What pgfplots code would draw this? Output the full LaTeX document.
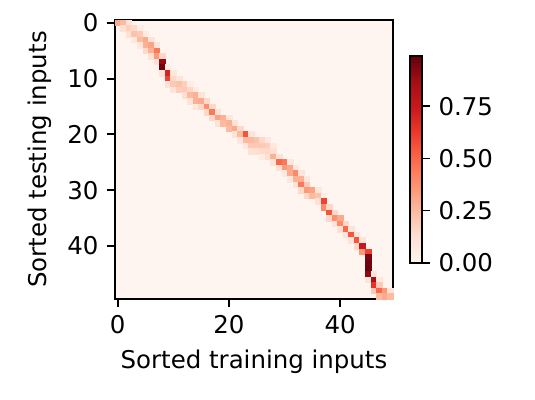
\documentclass[border=0pt]{standalone}
\usepackage{pgfplots}
\pgfplotsset{compat=1.18}
\usepackage{pgfplotstable}
\usepackage{fontspec}
\setmainfont{DejaVu Sans}
\definecolor{redszero}{RGB}{255,245,240}
\pgfplotstableread{
x y c
0 0 0.30
1 0 0.25
2 0 0.10
1 1 0.12
2 1 0.18
3 1 0.15
4 1 0.05
2 2 0.12
3 2 0.22
4 2 0.20
5 2 0.06
3 3 0.08
4 3 0.25
5 3 0.30
6 3 0.10
4 4 0.08
5 4 0.28
6 4 0.32
7 4 0.10
5 5 0.15
6 5 0.28
7 5 0.45
6 6 0.12
7 6 0.35
8 6 0.15
7 7 0.10
8 7 0.90
8 8 0.97
9 8 0.05
8 9 0.10
9 9 0.70
10 9 0.08
9 10 0.60
10 10 0.15
11 10 0.10
9 11 0.10
10 11 0.20
11 11 0.22
12 11 0.18
13 11 0.05
10 12 0.10
11 12 0.18
12 12 0.20
13 12 0.15
14 12 0.06
12 13 0.12
13 13 0.25
14 13 0.28
15 13 0.10
13 14 0.10
14 14 0.28
15 14 0.30
16 14 0.15
14 15 0.08
15 15 0.15
16 15 0.38
17 15 0.15
16 16 0.15
17 16 0.45
18 16 0.12
17 17 0.15
18 17 0.32
19 17 0.28
20 17 0.08
18 18 0.10
19 18 0.25
20 18 0.28
21 18 0.10
20 19 0.25
21 19 0.30
22 19 0.15
21 20 0.10
22 20 0.25
23 20 0.55
24 20 0.10
22 21 0.08
23 21 0.25
24 21 0.25
25 21 0.22
26 21 0.15
27 21 0.08
23 22 0.08
24 22 0.20
25 22 0.20
26 22 0.20
27 22 0.18
28 22 0.08
24 23 0.12
25 23 0.12
26 23 0.14
27 23 0.15
28 23 0.12
26 24 0.06
27 24 0.12
28 24 0.28
29 24 0.10
28 25 0.10
29 25 0.50
30 25 0.45
31 25 0.08
29 26 0.12
30 26 0.35
31 26 0.30
32 26 0.08
30 27 0.08
31 27 0.30
32 27 0.40
33 27 0.10
31 28 0.08
32 28 0.28
33 28 0.28
34 28 0.08
32 29 0.10
33 29 0.45
34 29 0.20
33 30 0.15
34 30 0.35
35 30 0.32
36 30 0.08
34 31 0.15
35 31 0.25
36 31 0.22
37 31 0.05
36 32 0.12
37 32 0.60
37 33 0.40
38 33 0.15
38 34 0.55
39 34 0.15
38 35 0.15
39 35 0.38
40 35 0.30
39 36 0.10
40 36 0.40
41 36 0.15
40 37 0.12
41 37 0.50
42 37 0.10
41 38 0.10
42 38 0.55
43 38 0.10
42 39 0.10
43 39 0.55
44 39 0.10
43 40 0.15
44 40 0.75
44 41 0.35
45 41 0.60
45 42 0.95
45 43 0.97
45 44 0.98
45 45 0.92
46 45 0.10
45 46 0.10
46 46 0.85
47 46 0.08
46 47 0.65
47 47 0.20
46 48 0.20
47 48 0.50
48 48 0.35
49 48 0.10
47 49 0.25
48 49 0.30
49 49 0.25
}\attn
\begin{document}
\begin{tikzpicture}
\useasboundingbox (-48.9pt,-42.6pt) rectangle (178.7pt,127.2pt);
\begin{axis}[
  at={(0,0)}, anchor=south west,
  scale only axis,
  width=118.3pt, height=118.7pt,
  xmin=-0.5, xmax=49.5, ymin=-0.5, ymax=49.5,
  y dir=reverse,
  axis line style={line width=0.8pt},
  every tick/.style={black, line width=0.8pt},
  tick align=outside,
  major tick length=3.5pt,
  xtick={0,20,40}, ytick={0,10,20,30,40},
  xtick pos=bottom, ytick pos=left,
  /pgf/number format/assume math mode=true,
  tick label style={font=\fontsize{10.4}{12}\selectfont},
  label style={font=\fontsize{10.4}{12}\selectfont},
  xlabel={Sorted training inputs},
  ylabel={Sorted testing inputs},
  axis background/.style={fill=redszero},
  colormap={Reds}{rgb255=(255,245,240) rgb255=(254,224,210) rgb255=(252,187,161) rgb255=(252,146,114) rgb255=(251,106,74) rgb255=(239,59,44) rgb255=(203,24,29) rgb255=(165,15,21) rgb255=(103,0,13)},
  point meta min=0, point meta max=0.99,
  colorbar right,
  colorbar style={
    at={(parent axis.east)}, anchor=west, xshift=-1.3pt,
    width=5.1pt, height=87.7pt,
    ytick={0,0.25,0.5,0.75},
    yticklabel style={/pgf/number format/.cd, fixed, fixed zerofill, precision=2, assume math mode=true},
    tick label style={font=\fontsize{10.4}{12}\selectfont},
    axis line style={line width=0.8pt},
    every tick/.style={black, line width=0.8pt},
    tick align=outside,
    major tick length=3.5pt,
    ytick pos=right,
  },
]
\addplot[scatter, only marks, mark=square*, mark size=1.183pt,
  scatter/use mapped color={draw=mapped color, fill=mapped color, line width=0.15pt},
  point meta=explicit] table[x=x, y=y, meta=c] {\attn};
\end{axis}
\end{tikzpicture}
\end{document}
